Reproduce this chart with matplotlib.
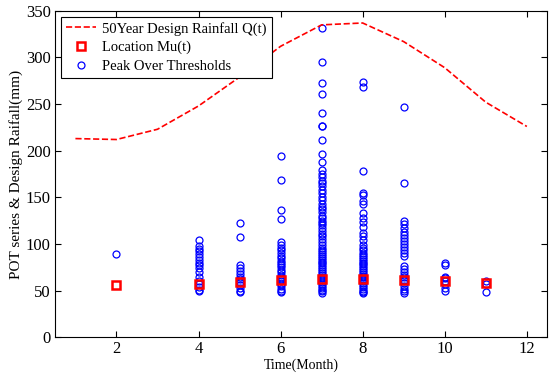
import matplotlib
matplotlib.use('Agg')
import matplotlib.pyplot as plt

plt.rcParams['font.family'] = ['Liberation Serif', 'DejaVu Serif']

# 50-year design rainfall per month
months = [1, 2, 3, 4, 5, 6, 7, 8, 9, 10, 11, 12]
q50 = [213, 212, 223, 248, 279, 312, 335, 337, 317, 289, 252, 226]

# location parameter Mu(t)
mu_months = [2, 4, 5, 6, 7, 8, 9, 10, 11]
mu_vals = [56, 57.5, 59.5, 61, 62, 62, 61, 60, 58]

# peak over threshold samples, by month
pot = {
    2: [89],
    4: [104, 98, 95, 92, 89, 86, 83, 80, 77, 74, 70, 64, 60, 57, 54, 51, 49],
    5: [122, 107, 77, 74, 71, 68, 65, 62, 59, 56, 53, 50, 48],
    6: [194, 169, 136, 127, 102, 99, 96, 93, 90, 87, 85, 82, 80, 77, 75, 72,
        70, 67, 65, 62, 60, 57, 55, 52, 50, 48],
    7: [332, 295, 273, 261, 240, 227, 226, 212, 196, 188, 179, 175, 172, 168,
        165, 162, 158, 155, 150, 147, 143, 140, 137, 134, 130, 128, 125, 122,
        120, 117, 114, 111, 108, 105, 102, 99, 96, 94, 91, 89, 87, 85, 83, 81,
        79, 77, 75, 73, 71, 69, 67, 65, 63, 61, 59, 57, 55, 53, 51, 49, 47],
    8: [274, 268, 178, 155, 152, 146, 143, 133, 128, 123, 118, 112, 108, 104,
        99, 96, 93, 90, 88, 86, 84, 82, 80, 78, 76, 74, 72, 70, 68, 66, 64,
        62, 60, 58, 56, 54, 52, 50, 48, 47],
    9: [247, 165, 125, 121, 117, 113, 110, 106, 103, 100, 97, 93, 90, 87, 76,
        73, 70, 67, 64, 61, 58, 55, 52, 49, 47],
    10: [79, 77, 65, 63, 60, 57, 53, 50],
    11: [60, 57, 48],
}

pot_x = []
pot_y = []
for m, vals in pot.items():
    pot_x += [m] * len(vals)
    pot_y += vals

fig = plt.figure(figsize=(5.49, 3.75), dpi=100)
ax = fig.add_axes([0.1, 0.101, 0.897, 0.870])

h_pot, = ax.plot(pot_x, pot_y, 'o', color='blue', mfc='none', ms=5, mew=0.9,
                 label='Peak Over Thresholds', zorder=2)
h_mu, = ax.plot(mu_months, mu_vals, 's', color='red', mfc='none', ms=6, mew=1.8,
                label='Location Mu(t)', zorder=3)
h_q, = ax.plot(months, q50, '--', color='red', lw=1.2,
               label='50Year Design Rainfall Q(t)', zorder=4)

ax.set_xlim(0.5, 12.5)
ax.set_ylim(0, 350)
ax.set_xticks([2, 4, 6, 8, 10, 12])
ax.set_yticks(range(0, 351, 50))
ax.tick_params(direction='in', top=True, right=True, labelsize=12, length=4, pad=3)
ax.set_xlabel('Time(Month)', fontsize=10, labelpad=1)
ax.set_ylabel('POT series & Design Raifall(mm)', fontsize=11, labelpad=2)

leg = ax.legend(handles=[h_q, h_mu, h_pot], loc='upper left', fontsize=10.5,
                fancybox=False, edgecolor='black', framealpha=1,
                borderaxespad=0.4, handlelength=2.1, handletextpad=0.4,
                labelspacing=0.35, borderpad=0.35)
leg.get_frame().set_linewidth(0.8)

fig.savefig('out.png', dpi=100)
